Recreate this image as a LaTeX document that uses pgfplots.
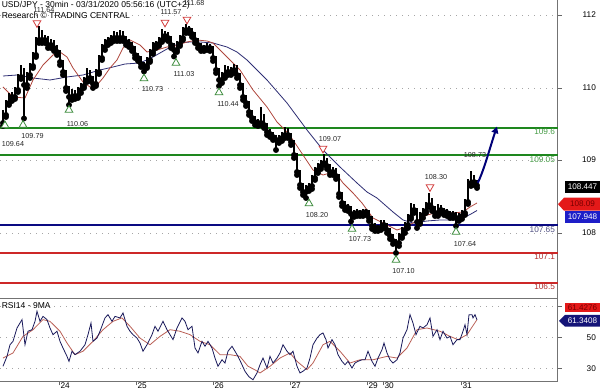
\documentclass[border=0pt]{standalone}
\usepackage{pgfplots}
\usepackage{pgfplotstable}
\pgfplotsset{compat=1.18}
\usepackage{fontspec}
\setmainfont{Liberation Sans}
\usetikzlibrary{arrows.meta}
\definecolor{lvgreen}{RGB}{30,135,30}
\definecolor{lvgreentxt}{RGB}{70,155,70}
\definecolor{lvnavy}{RGB}{10,10,130}
\definecolor{lvnavytxt}{RGB}{80,80,130}
\definecolor{lvred}{RGB}{205,40,40}
\definecolor{lvredtxt}{RGB}{175,45,45}
\definecolor{mared}{RGB}{175,70,60}
\definecolor{manavy}{RGB}{45,45,115}
\definecolor{rsinavy}{RGB}{25,25,90}
\definecolor{rsired}{RGB}{185,95,85}
\definecolor{trigreen}{RGB}{60,140,60}
\definecolor{trired}{RGB}{210,60,60}
\definecolor{arrowblue}{RGB}{0,0,120}
\definecolor{boxred}{RGB}{228,25,25}
\definecolor{boxredtxt}{RGB}{120,0,0}
\definecolor{boxblue}{RGB}{30,30,200}
\definecolor{boxnavy}{RGB}{20,20,120}

\pgfplotstableread{
x o h l c
3 109.70 109.96 109.64 109.86
6 109.86 110.16 109.82 110.10
9 110.10 110.30 110.06 110.24
12 110.24 110.32 110.14 110.22
15 110.22 110.42 110.18 110.36
18 110.36 110.68 110.32 110.62
21 110.62 110.86 110.58 110.76
24 110.76 110.80 109.79 110.46
27 110.46 110.72 110.40 110.66
30 110.66 110.90 110.60 110.84
33 110.84 111.12 110.80 111.06
36 111.06 111.42 111.02 111.36
39 111.36 111.64 111.30 111.52
42 111.52 111.56 111.30 111.36
45 111.36 111.46 111.30 111.40
48 111.40 111.44 111.20 111.26
51 111.26 111.38 111.20 111.32
54 111.32 111.36 111.14 111.20
57 111.20 111.26 111.06 111.12
60 111.12 111.16 110.86 110.92
63 110.92 110.96 110.66 110.72
66 110.72 110.76 110.34 110.40
69 110.40 110.44 110.06 110.22
72 110.22 110.38 110.16 110.32
75 110.32 110.36 110.18 110.24
78 110.24 110.42 110.20 110.36
81 110.36 110.50 110.30 110.44
84 110.44 110.62 110.40 110.56
87 110.56 110.80 110.52 110.72
90 110.72 110.76 110.54 110.60
93 110.60 110.64 110.40 110.48
96 110.48 110.78 110.44 110.72
99 110.72 111.06 110.68 111.00
102 111.00 111.28 110.96 111.22
105 111.22 111.38 111.16 111.32
108 111.32 111.42 111.26 111.36
111 111.36 111.46 111.30 111.40
114 111.40 111.54 111.34 111.48
117 111.48 111.52 111.34 111.40
120 111.40 111.56 111.34 111.50
123 111.50 111.54 111.34 111.40
126 111.40 111.44 111.26 111.32
129 111.32 111.38 111.22 111.28
132 111.28 111.32 111.14 111.20
135 111.20 111.24 111.00 111.06
138 111.06 111.10 110.94 111.00
141 111.00 111.04 110.82 110.88
144 110.88 110.92 110.73 110.84
147 110.84 111.02 110.80 110.96
150 110.96 111.18 110.92 111.12
153 111.12 111.32 111.08 111.26
156 111.26 111.34 111.20 111.28
159 111.28 111.42 111.24 111.36
162 111.36 111.57 111.32 111.44
165 111.44 111.54 111.38 111.48
168 111.48 111.52 111.34 111.40
171 111.40 111.44 111.20 111.26
174 111.26 111.30 111.03 111.16
177 111.16 111.34 111.12 111.28
180 111.28 111.46 111.24 111.40
183 111.40 111.62 111.36 111.56
186 111.56 111.68 111.50 111.60
189 111.60 111.64 111.50 111.56
192 111.56 111.60 111.42 111.48
195 111.48 111.52 111.30 111.36
198 111.36 111.40 111.20 111.26
201 111.26 111.30 111.14 111.20
204 111.20 111.26 111.14 111.20
207 111.20 111.30 111.16 111.24
210 111.24 111.28 111.14 111.20
213 111.20 111.24 110.94 111.00
216 111.00 111.04 110.70 110.76
219 110.76 110.80 110.44 110.56
222 110.56 110.72 110.50 110.66
225 110.66 110.86 110.60 110.80
228 110.80 110.84 110.66 110.72
231 110.72 110.82 110.66 110.76
234 110.76 110.88 110.70 110.82
237 110.82 110.86 110.60 110.66
240 110.66 110.70 110.40 110.46
243 110.46 110.50 110.16 110.22
246 110.22 110.26 110.04 110.10
249 110.10 110.14 109.86 109.92
252 109.92 109.96 109.74 109.80
255 109.80 109.84 109.66 109.72
258 109.72 109.78 109.64 109.70
261 109.70 110.02 109.66 109.84
264 109.84 109.88 109.60 109.66
267 109.66 109.70 109.46 109.52
270 109.52 109.58 109.42 109.48
273 109.48 109.52 109.36 109.42
276 109.42 109.46 109.16 109.36
279 109.36 109.46 109.30 109.40
282 109.40 109.52 109.34 109.46
285 109.46 109.62 109.40 109.56
288 109.56 109.60 109.40 109.46
291 109.46 109.50 109.26 109.32
294 109.32 109.36 109.00 109.06
297 109.06 109.10 108.66 108.72
300 108.72 108.76 108.40 108.46
303 108.46 108.50 108.26 108.32
306 108.32 108.46 108.20 108.40
309 108.40 108.50 108.34 108.44
312 108.44 108.66 108.38 108.60
315 108.60 108.82 108.56 108.76
318 108.76 108.90 108.70 108.84
321 108.84 108.96 108.78 108.90
324 108.90 109.07 108.86 108.96
327 108.96 109.00 108.78 108.84
330 108.84 108.88 108.66 108.72
333 108.72 108.82 108.66 108.76
336 108.76 108.80 108.58 108.64
339 108.64 108.68 108.22 108.28
342 108.28 108.32 108.04 108.10
345 108.10 108.14 107.96 108.02
348 108.02 108.08 107.94 108.00
351 108.00 108.04 107.73 107.88
354 107.88 107.96 107.82 107.90
357 107.90 107.98 107.84 107.92
360 107.92 107.96 107.84 107.90
363 107.90 107.98 107.84 107.92
366 107.92 107.98 107.86 107.92
369 107.92 107.96 107.74 107.80
372 107.80 107.84 107.58 107.64
375 107.64 107.70 107.54 107.60
378 107.60 107.66 107.54 107.60
381 107.60 107.76 107.56 107.70
384 107.70 107.76 107.60 107.66
387 107.66 107.70 107.50 107.56
390 107.56 107.60 107.38 107.44
393 107.44 107.48 107.28 107.34
396 107.34 107.38 107.10 107.30
399 107.30 107.50 107.24 107.44
402 107.44 107.62 107.40 107.56
405 107.56 107.72 107.50 107.66
408 107.66 107.88 107.60 107.82
411 107.82 108.10 107.78 108.04
414 108.04 108.08 107.90 107.96
417 107.96 108.00 107.60 107.72
420 107.72 107.92 107.68 107.86
423 107.86 108.00 107.80 107.94
426 107.94 108.12 107.90 108.06
429 108.06 108.30 108.02 108.16
432 108.16 108.20 107.94 108.00
435 108.00 108.04 107.84 107.90
438 107.90 108.08 107.84 108.02
441 108.02 108.06 107.90 107.96
444 107.96 108.00 107.86 107.92
447 107.92 107.98 107.84 107.90
450 107.90 107.94 107.80 107.86
453 107.86 107.94 107.80 107.88
456 107.88 107.92 107.64 107.80
459 107.80 107.90 107.74 107.84
462 107.84 107.96 107.78 107.90
465 107.90 108.18 107.86 108.12
468 108.12 108.58 108.08 108.50
471 108.50 108.73 108.44 108.62
474 108.62 108.66 108.46 108.52
477 108.52 108.56 108.40 108.45
}\candles

\tikzset{
  lbl/.style={font=\fontsize{5.4}{6}\selectfont, inner sep=0pt, text=black!85},
  lvl/.style={font=\fontsize{6.2}{7}\selectfont, inner sep=0.6pt, anchor=north east},
  box/.style={font=\fontsize{6.1}{7}\selectfont, inner sep=0pt},
}
\pgfplotsset{
  panel/.style={
    anchor=south west, scale only axis, width=418.125pt,
    xmin=0, xmax=557.5, clip=false,
    axis x line*=bottom, axis y line*=right,
    axis line style={black!55, line width=0.6pt},
    tick style={black!60, line width=0.5pt},
    tick align=outside, major tick length=3pt,
    ymajorgrids,
    grid style={black!35, line width=0.5pt, dash pattern=on 0.6pt off 3.9pt},
    /pgf/number format/assume math mode=true,
    yticklabel style={font=\fontsize{6.2}{7}\selectfont, anchor=east, inner sep=0pt, xshift=26pt},
  },
}

\begin{document}
\begin{tikzpicture}
\useasboundingbox (0,0) rectangle (450pt,294pt);
% ---------------- main price panel ----------------
\begin{axis}[panel,
  at={(0pt,70.125pt)}, height=223.875pt,
  ymin=106.19, ymax=112.16,
  xtick=\empty,
  ytick={111.86,110.40,108.96,107.50},
  yticklabels={112,110,109,108},
]
% level lines
\addplot[lvgreen, line width=1.5pt] coordinates {(0,109.6) (557.5,109.6)};
\addplot[lvgreen, line width=1.5pt] coordinates {(0,109.05) (557.5,109.05)};
\addplot[lvnavy, line width=1.5pt] coordinates {(0,107.65) (557.5,107.65)};
\addplot[lvred, line width=1.5pt] coordinates {(0,107.1) (557.5,107.1)};
\addplot[lvred, line width=1.5pt] coordinates {(0,106.5) (557.5,106.5)};
% moving averages
\addplot[manavy, line width=0.6pt] coordinates {(3,110.64) (17,110.66) (33,110.60) (50,110.56) (67,110.62) (83,110.66) (100,110.76) (113,110.82) (125,110.88) (140,110.90) (153,111.02) (167,111.18) (180,111.30) (190,111.32) (200,111.32) (213,111.30) (227,111.22) (237,111.12) (247,110.96) (267,110.56) (287,110.10) (307,109.56) (323,109.16) (340,108.82) (357,108.50) (367,108.32) (377,108.20) (393,107.92) (403,107.76) (413,107.70) (427,107.74) (440,107.76) (453,107.76) (463,107.80) (471,107.88) (477,107.95)};
\addplot[mared, line width=0.6pt] coordinates {(3,110.42) (13,110.22) (25,110.20) (33,110.56) (43,110.86) (53,111.06) (60,111.12) (67,111.02) (73,110.80) (83,110.52) (90,110.42) (97,110.46) (103,110.60) (110,110.80) (117,110.96) (123,111.20) (130,111.36) (140,111.26) (147,111.12) (157,111.16) (167,111.22) (175,111.24) (187,111.32) (197,111.36) (207,111.34) (213,111.30) (223,111.10) (233,110.90) (240,110.76) (253,110.36) (267,110.02) (277,109.72) (287,109.52) (293,109.36) (303,109.06) (313,108.76) (323,108.66) (330,108.70) (337,108.66) (343,108.50) (353,108.30) (362,108.10) (373,107.80) (387,107.66) (397,107.56) (403,107.60) (413,107.70) (427,107.86) (440,107.92) (453,107.90) (463,107.92) (470,108.02) (477,108.10)};
% candles: wicks and bodies
\addplot[only marks, mark=none, black, error bars/.cd, y dir=plus, y explicit, error mark=none,
  error bar style={line width=0.8pt, black, line cap=butt}]
  table[x=x, y=l, y error plus expr={\thisrow{h}-\thisrow{l}}] {\candles};
\addplot[only marks, mark=none, black, error bars/.cd, y dir=plus, y explicit, error mark=none,
  error bar style={line width=2.1pt, black, line cap=butt}]
  table[x=x, y expr={min(\thisrow{o},\thisrow{c})}, y error plus expr={abs(\thisrow{c}-\thisrow{o})+0.01}] {\candles};
% swing markers
\addplot[only marks, mark=triangle*, mark size=3.3pt, mark options={fill=white, draw=trigreen, line width=0.6pt}]
  coordinates {(5,109.65) (23,109.66) (69,109.96) (144,110.59) (176,110.90) (219,110.31) (309,108.09) (352,107.58) (396,106.96) (456,107.52)};
\addplot[only marks, mark=triangle*, mark size=3.3pt, mark options={fill=white, draw=trired, line width=0.6pt, rotate=180}]
  coordinates {(37,111.70) (165,111.71) (187,111.77) (323,109.19) (430,108.42)};
% projection arrow
\draw[arrowblue, line width=1.5pt, -{Triangle[length=5pt,width=5pt]}]
  (axis cs:477,108.47) .. controls (axis cs:484,108.75) and (axis cs:489,109.15) .. (axis cs:497,109.63);
% swing labels
\node[lbl] at (axis cs:13,109.28) {109.64};
\node[lbl] at (axis cs:32.5,109.43) {109.79};
\node[lbl] at (axis cs:77.5,109.68) {110.06};
\node[lbl] at (axis cs:152.5,110.37) {110.73};
\node[lbl] at (axis cs:184,110.68) {111.03};
\node[lbl] at (axis cs:228,110.08) {110.44};
\node[lbl] at (axis cs:330,109.38) {109.07};
\node[lbl] at (axis cs:317,107.85) {108.20};
\node[lbl] at (axis cs:360,107.37) {107.73};
\node[lbl] at (axis cs:403.5,106.74) {107.10};
\node[lbl] at (axis cs:436,108.62) {108.30};
\node[lbl] at (axis cs:465,107.28) {107.64};
\node[lbl] at (axis cs:475,109.05) {108.73};
% level labels
\node[lvl, text=lvgreentxt] at (axis cs:556,109.6) {109.6};
\node[lvl, text=lvgreentxt] at (axis cs:556,109.05) {109.05};
\node[lvl, text=lvnavytxt] at (axis cs:556,107.65) {107.65};
\node[lvl, text=lvredtxt] at (axis cs:556,107.1) {107.1};
\node[lvl, text=lvredtxt] at (axis cs:556,106.5) {106.5};
% title
\node[anchor=west, inner sep=0pt, font=\fontsize{6.4}{7.5}\selectfont] at (axis cs:1.5,112.06) {USD/JPY - 30min - 03/31/2020 05:56:16 (UTC+2)};
\node[anchor=west, inner sep=0pt, font=\fontsize{6.4}{7.5}\selectfont] at (axis cs:1.5,111.85) {Research \textcopyright{} TRADING CENTRAL};
\node[lbl] at (axis cs:44,111.95) {111.64};
\node[lbl] at (axis cs:171,111.91) {111.57};
\node[lbl] at (axis cs:194,112.10) {111.68};
% value boxes
\fill[black] (axis cs:565,108.546) rectangle (axis cs:600,108.306);
\node[box, text=white] at (axis cs:582.5,108.426) {108.447};
\fill[boxred] (axis cs:558,108.076) -- (axis cs:564,108.206) -- (axis cs:600,108.206) -- (axis cs:600,107.946) -- (axis cs:564,107.946) -- cycle;
\node[box, text=boxredtxt] at (axis cs:582.5,108.076) {108.09};
\fill[boxblue] (axis cs:565,107.946) rectangle (axis cs:600,107.694);
\node[box, text=white] at (axis cs:582.5,107.82) {107.948};
\end{axis}
% ---------------- RSI panel ----------------
\begin{axis}[panel,
  at={(0pt,7.875pt)}, height=62.25pt,
  ymin=21.48, ymax=75.03,
  ytick={30,50,70}, yticklabels={30,50,{}},
  xtick={59,136,213,290,367,383,461},
  xticklabels={24,25,26,27,29,30,31},
  xticklabel style={font=\fontsize{6.2}{7}\selectfont, anchor=north west, inner sep=0pt, xshift=1pt, yshift=2.5pt},
]
\addplot[rsired, line width=0.6pt] coordinates {(3,36.6) (13,39.9) (23,50.6) (33,54.9) (43,61.4) (50,60.3) (60,53.9) (67,46.3) (75,38.8) (83,41) (93,47.4) (103,54.9) (113,60.3) (122,62.5) (130,57.1) (140,49.5) (150,45.2) (160,50.6) (170,54.9) (180,53.9) (190,51.7) (200,47.4) (210,45.2) (220,38.8) (230,38.8) (240,37.7) (248,31.3) (255,29) (260,27) (270,31.3) (280,36.6) (290,39.9) (297,34.5) (307,29.1) (313,33.4) (323,45.2) (330,47.4) (340,41) (350,33.4) (360,35.5) (373,35.5) (387,37.7) (397,36.6) (407,43.1) (417,54.9) (427,56) (440,53.9) (450,50.6) (458,48.5) (467,51.7) (477,61.4)};
\addplot[rsinavy, line width=0.6pt] coordinates {(3,31.3) (7,37.7) (10,45.2) (13,47.4) (17,56) (22,61.4) (25,45.2) (28,53.9) (32,54.9) (35,60.3) (37,66.8) (40,60.3) (43,63.5) (47,61.4) (50,56) (53,51.7) (57,53.9) (60,47.4) (63,43.1) (67,37.7) (69,34.5) (72,41) (75,38.8) (80,41) (85,45.2) (88,51.7) (91,59.2) (93,47.4) (97,49.5) (100,53.9) (105,62.5) (108,64.6) (112,60.3) (115,63.5) (120,62.5) (123,65.7) (127,57.1) (130,53.9) (133,51.7) (137,49.5) (140,46.3) (143,41) (147,45.2) (152,51.7) (155,57.1) (158,53.9) (163,60.3) (167,54.9) (170,51.7) (173,48.5) (177,56) (182,62.5) (185,60.3) (188,54.9) (192,57.1) (195,43.1) (198,39.9) (202,47.4) (205,44.2) (208,47.4) (212,43.1) (215,36.6) (218,31.3) (222,35.5) (225,33.4) (228,41) (232,44.2) (235,41) (238,37.7) (242,32.3) (245,28) (249,24.5) (253,22.6) (257,27) (260,32.3) (263,36.6) (267,30.2) (270,37.7) (273,33.4) (277,36.6) (280,39.9) (283,45.2) (287,41) (290,38.8) (293,41) (297,31.3) (300,27) (303,28.1) (307,30.2) (310,36.6) (313,45.2) (317,49.5) (320,51.7) (323,52.8) (326,48.5) (328,43.1) (332,48.5) (335,45.2) (338,38.8) (342,34.5) (345,32.3) (348,34.5) (352,30.2) (355,33.4) (358,34.5) (362,35.5) (365,35.5) (368,41) (372,34.5) (375,31.3) (378,36.6) (382,42) (384,46.3) (387,39.9) (390,35.5) (393,33.4) (397,35.5) (400,39.9) (403,49.5) (407,54.9) (410,64.6) (413,59.2) (416,51.7) (420,57.1) (423,56) (427,58.1) (430,62.5) (433,50.6) (437,54.9) (440,48.5) (443,53.9) (447,49.5) (450,50.6) (453,45.2) (457,48.5) (460,48.5) (463,53.9) (465,58.1) (467,51.7) (469,64.6) (472,64.6) (473,62.5) (475,64.6) (477,61.3)};
\node[anchor=west, inner sep=0pt, font=\fontsize{6.4}{7.5}\selectfont] at (axis cs:1.5,70.2) {RSI14 - 9MA};
\fill[boxred] (axis cs:565,71.94) rectangle (axis cs:600,66.52);
\node[box, text=boxredtxt] at (axis cs:582.5,69.23) {61.4276};
\fill[boxnavy] (axis cs:559,60.6) -- (axis cs:565,64.39) -- (axis cs:600,64.39) -- (axis cs:600,56.84) -- (axis cs:565,56.84) -- cycle;
\node[box, text=white] at (axis cs:582.5,60.6) {61.3408};
\end{axis}
\end{tikzpicture}
\end{document}
